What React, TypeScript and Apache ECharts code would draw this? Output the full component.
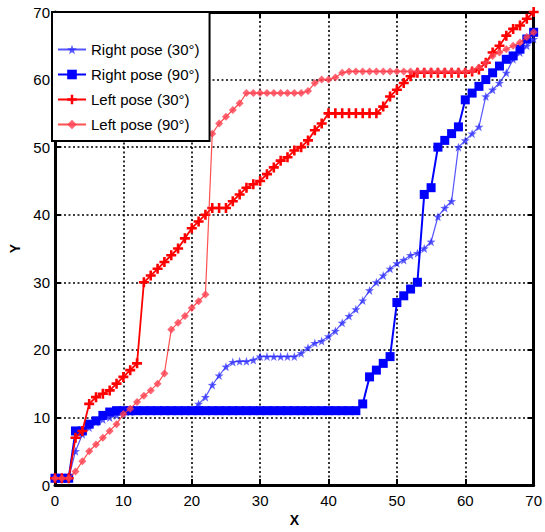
import React, { useEffect, useRef } from "react";
import * as echarts from "echarts";

const xTicks = { min: 0, max: 70, interval: 10 };
const yTicks = { min: 0, max: 70, interval: 10 };

const seriesNames = [
  "Right pose (30°)",
  "Right pose (90°)",
  "Left pose (30°)",
  "Left pose (90°)",
];

const rightPose30: number[][] = [
  [0, 1], [1, 1], [2, 1], [3, 5], [4, 7.5], [5, 8.5], [6, 9.3], [7, 9.7], [8, 10], [9, 10.3],
  [10, 10.5], [11, 10.8], [12, 11], [13, 11], [14, 11], [15, 11], [16, 11], [17, 11], [18, 11],
  [19, 11], [20, 11], [21, 12], [22, 13], [23, 14.8], [24, 16.2], [25, 17.5], [26, 18.2],
  [27, 18.3], [28, 18.3], [29, 18.5], [30, 19], [31, 19], [32, 19], [33, 19], [34, 19], [35, 19],
  [36, 19.5], [37, 20.3], [38, 21], [39, 21.3], [40, 22], [41, 22.8], [42, 24], [43, 25],
  [44, 26], [45, 27.3], [46, 28.8], [47, 30], [48, 31], [49, 32], [50, 32.8], [51, 33.3],
  [52, 34], [53, 34.3], [54, 35], [55, 36], [56, 39.7], [57, 41], [58, 42], [59, 50], [60, 51],
  [61, 52], [62, 53], [63, 57.5], [64, 58.5], [65, 59.5], [66, 61], [67, 63], [68, 64],
  [69, 65], [70, 66],
];

const rightPose90: number[][] = [
  [0, 1], [1, 1], [2, 1], [3, 8], [4, 8], [5, 9], [6, 9.5], [7, 10.3], [8, 10.8], [9, 11],
  [10, 11], [11, 11], [12, 11], [13, 11], [14, 11], [15, 11], [16, 11], [17, 11], [18, 11],
  [19, 11], [20, 11], [21, 11], [22, 11], [23, 11], [24, 11], [25, 11], [26, 11], [27, 11],
  [28, 11], [29, 11], [30, 11], [31, 11], [32, 11], [33, 11], [34, 11], [35, 11], [36, 11],
  [37, 11], [38, 11], [39, 11], [40, 11], [41, 11], [42, 11], [43, 11], [44, 11], [45, 12],
  [46, 16], [47, 17], [48, 18], [49, 19], [50, 27], [51, 28], [52, 29], [53, 30], [54, 43],
  [55, 44], [56, 50], [57, 51], [58, 52], [59, 53], [60, 57], [61, 58], [62, 59], [63, 60],
  [64, 61], [65, 62], [66, 63], [67, 63.5], [68, 64.5], [69, 66], [70, 67],
];

const leftPose30: number[][] = [
  [0, 1], [1, 1], [2, 1], [3, 7], [4, 8], [5, 12], [6, 13], [7, 13.5], [8, 14], [9, 15],
  [10, 16], [11, 17], [12, 18], [13, 30], [14, 31], [15, 32], [16, 33], [17, 34], [18, 35],
  [19, 36.5], [20, 38], [21, 39], [22, 40], [23, 41], [24, 41], [25, 41], [26, 42], [27, 43],
  [28, 44], [29, 44.5], [30, 45], [31, 46], [32, 47], [33, 48], [34, 48.5], [35, 49.5],
  [36, 50], [37, 51], [38, 52.5], [39, 53.5], [40, 55], [41, 55], [42, 55], [43, 55], [44, 55],
  [45, 55], [46, 55], [47, 55], [48, 56], [49, 57.5], [50, 58.5], [51, 59.5], [52, 60.5],
  [53, 61], [54, 61], [55, 61], [56, 61], [57, 61], [58, 61], [59, 61], [60, 61], [61, 61.2],
  [62, 61.5], [63, 62.5], [64, 64], [65, 65], [66, 66.5], [67, 67.5], [68, 68], [69, 69],
  [70, 70],
];

const leftPose90: number[][] = [
  [0, 1], [1, 1], [2, 1], [3, 2], [4, 3.5], [5, 5], [6, 6], [7, 7], [8, 8], [9, 9], [10, 10.5],
  [11, 11.3], [12, 12.3], [13, 13.2], [14, 14], [15, 15], [16, 16.5], [17, 23], [18, 24],
  [19, 25], [20, 26.2], [21, 27.2], [22, 28.2], [23, 52], [24, 53.5], [25, 54.5], [26, 55.5],
  [27, 56.5], [28, 58], [29, 58], [30, 58], [31, 58], [32, 58], [33, 58], [34, 58], [35, 58],
  [36, 58], [37, 58.3], [38, 59.5], [39, 60], [40, 60], [41, 60.3], [42, 61], [43, 61.2],
  [44, 61.2], [45, 61.2], [46, 61.2], [47, 61.2], [48, 61.2], [49, 61.2], [50, 61.2],
  [51, 61.2], [52, 61.2], [53, 61.2], [54, 61.2], [55, 61.2], [56, 61.2], [57, 61.2],
  [58, 61.2], [59, 61.2], [60, 61.2], [61, 61.3], [62, 61.8], [63, 62.5], [64, 63.5],
  [65, 64], [66, 64.5], [67, 65], [68, 65.5], [69, 66.3], [70, 67],
];

const STAR =
  "path://M0,-10 L2.35,-3.24 L9.51,-3.09 L3.8,1.24 L5.88,8.09 L0,4 L-5.88,8.09 L-3.8,1.24 L-9.51,-3.09 L-2.35,-3.24 Z";
const PLUS =
  "path://M-1.3,-5 L1.3,-5 L1.3,-1.3 L5,-1.3 L5,1.3 L1.3,1.3 L1.3,5 L-1.3,5 L-1.3,1.3 L-5,1.3 L-5,-1.3 L-1.3,-1.3 Z";

const FONT = "'Liberation Sans', Arial, Helvetica, sans-serif";

export default function App() {
  const ref = useRef<HTMLDivElement>(null);

  useEffect(() => {
    if (!ref.current) return;
    const chart = echarts.init(ref.current, undefined, { renderer: "svg" });

    const gridLine = { show: true, lineStyle: { color: "#000", type: [2, 2.5] as any, width: 1.6 } };
    const axisLine = { show: true, onZero: false, lineStyle: { color: "#000", width: 3 } };
    const axisTick = { show: true, inside: true, length: 6, lineStyle: { color: "#000", width: 2 } };
    const label = { color: "#000", fontSize: 15, fontFamily: FONT };

    chart.setOption({
      animation: false,
      backgroundColor: "#fff",
      grid: { left: 50, right: 8, top: 12, bottom: 47, containLabel: false },
      legend: {
        orient: "vertical",
        left: 52,
        top: 12,
        data: seriesNames,
        backgroundColor: "#fff",
        borderColor: "#000",
        borderWidth: 2,
        borderRadius: 0,
        padding: [30, 10, 9, 5],
        itemWidth: 28,
        itemHeight: 12,
        itemGap: 10,
        textStyle: { color: "#000", fontSize: 15, fontFamily: FONT },
        z: 10,
      },
      xAxis: [
        {
          type: "value",
          position: "bottom",
          ...xTicks,
          name: "X",
          nameLocation: "middle",
          nameGap: 28,
          nameTextStyle: { color: "#000", fontSize: 14, fontWeight: "bold", fontFamily: FONT },
          axisLine,
          axisTick,
          axisLabel: { ...label, margin: 8 },
          splitLine: gridLine,
        },
        {
          type: "value",
          position: "top",
          ...xTicks,
          axisLine,
          axisTick,
          axisLabel: { show: false },
          splitLine: { show: false },
        },
      ],
      yAxis: [
        {
          type: "value",
          position: "left",
          ...yTicks,
          name: "Y",
          nameLocation: "middle",
          nameGap: 33,
          nameRotate: 90,
          nameTextStyle: { color: "#000", fontSize: 14, fontWeight: "bold", fontFamily: FONT },
          axisLine,
          axisTick,
          axisLabel: { ...label, margin: 5 },
          splitLine: gridLine,
        },
        {
          type: "value",
          position: "right",
          ...yTicks,
          axisLine,
          axisTick,
          axisLabel: { show: false },
          splitLine: { show: false },
        },
      ],
      series: [
        {
          name: seriesNames[0],
          type: "line",
          data: rightPose30,
          symbol: STAR,
          symbolSize: 9,
          color: "#1a1aff",
          lineStyle: { color: "#2a2aff", width: 1.2, opacity: 0.8 },
          itemStyle: { color: "#2a2aff", opacity: 0.75 },
          z: 2,
        },
        {
          name: seriesNames[1],
          type: "line",
          data: rightPose90,
          symbol: "rect",
          symbolSize: 9,
          color: "#0000ff",
          lineStyle: { color: "#0000ff", width: 2 },
          itemStyle: { color: "#0000ff" },
          z: 3,
        },
        {
          name: seriesNames[2],
          type: "line",
          data: leftPose30,
          symbol: PLUS,
          symbolSize: 10,
          color: "#ff0000",
          lineStyle: { color: "#ff0000", width: 1.8 },
          itemStyle: { color: "#ff0000" },
          z: 4,
        },
        {
          name: seriesNames[3],
          type: "line",
          data: leftPose90,
          symbol: "diamond",
          symbolSize: 8,
          color: "#ff2a2a",
          lineStyle: { color: "#ff3030", width: 1.2, opacity: 0.85 },
          itemStyle: { color: "#ff4050", opacity: 0.8 },
          z: 5,
        },
      ],
    });

    return () => chart.dispose();
  }, []);

  return (
    <div
      ref={ref}
      style={{ position: "fixed", left: 0, top: 0, width: 545, height: 532, background: "#fff" }}
    />
  );
}
